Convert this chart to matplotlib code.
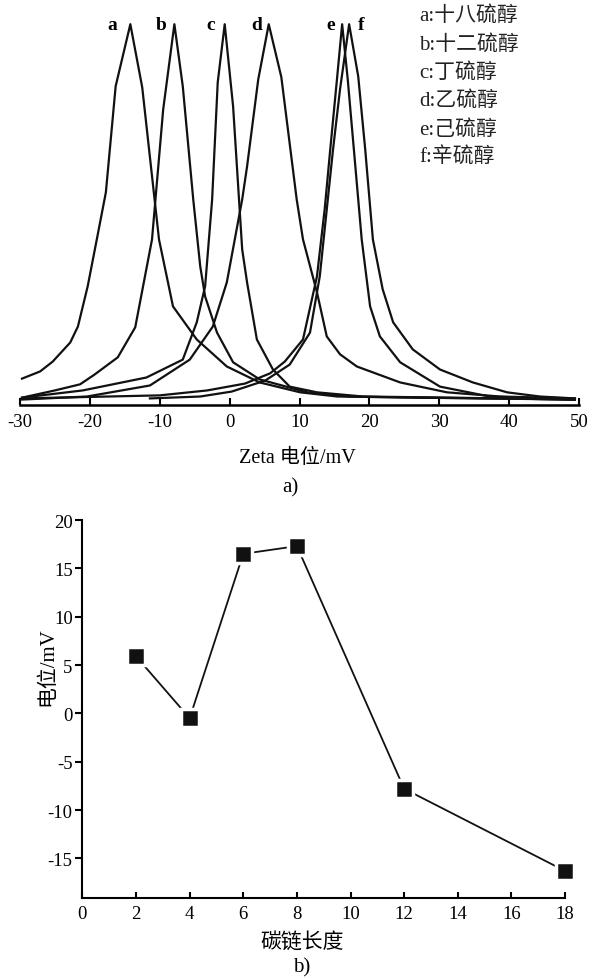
import matplotlib
matplotlib.use('Agg')
import matplotlib.pyplot as plt

# fonts: serif for latin text, CJK fallback for the Chinese characters
fams = ['Liberation Serif', 'Noto Sans CJK SC']
plt.rcParams['font.family'] = fams
plt.rcParams['axes.unicode_minus'] = False

# (a) zeta potential distributions, intensity normalised to peak = 100
a_mv = [-29.7, -27.1, -25.3, -22.8, -21.7, -20.3, -19.0, -17.7, -16.3, -14.2, -12.5, -10.1, -8.1, -4.7, -0.4, 4.3, 10.1, 15.4, 27.2, 38.7, 49.4]
a_int = [6.8, 8.7, 11.3, 16.3, 20.5, 31.1, 43.4, 55.8, 83.7, 100, 83.4, 43.4, 25.8, 17.1, 10.0, 5.8, 3.2, 2.1, 1.8, 1.6, 1.3]

b_mv = [-29.7, -25.0, -21.4, -19.3, -16.0, -13.5, -11.1, -9.5, -7.9, -6.7, -5.2, -4.2, -3.5, -1.8, 0.5, 4.3, 11.1, 17.2, 27.2, 49.4]
b_int = [1.8, 3.7, 5.3, 7.9, 12.4, 20.3, 43.4, 77.6, 100, 83.7, 53.9, 36.3, 28.4, 18.9, 11.1, 6.6, 3.2, 2.1, 1.8, 1.3]

c_mv = [-29.7, -21.0, -11.9, -6.7, -4.7, -3.5, -2.5, -1.7, -0.7, 0.5, 1.8, 2.5, 3.9, 6.2, 8.6, 12.5, 19.1, 31.5, 49.4]
c_int = [1.8, 3.7, 7.1, 11.8, 21.6, 31.1, 53.9, 84.7, 100, 78.4, 40.8, 32.1, 17.1, 9.2, 4.7, 3.2, 2.1, 1.8, 1.3]

d_mv = [-29.7, -20.4, -11.4, -5.7, -2.4, -0.4, 1.8, 2.5, 4.1, 5.6, 7.4, 9.6, 10.5, 12.5, 13.9, 15.8, 18.2, 24.4, 31.1, 38.7, 49.4]
d_int = [1.3, 2.1, 5.0, 11.8, 20.5, 32.1, 53.9, 62.6, 85.5, 100, 86.1, 53.9, 43.4, 29.5, 17.9, 13.2, 10.0, 5.8, 3.2, 2.1, 1.6]

e_mv = [-29.7, -10.0, -3.2, 2.2, 5.8, 7.9, 10.5, 12.5, 13.6, 14.4, 15.4, 16.1, 16.9, 17.9, 18.9, 20.1, 21.5, 24.4, 30.1, 37.2, 49.4]
e_int = [1.6, 2.4, 3.7, 5.5, 8.2, 11.3, 17.1, 33.7, 51.3, 67.1, 86.3, 100, 85.5, 64.5, 43.4, 25.8, 17.9, 11.1, 4.7, 2.1, 1.3]

f_mv = [-11.4, -4.2, 0.3, 5.1, 8.6, 11.5, 12.9, 13.9, 14.8, 15.8, 17.1, 18.4, 19.4, 20.5, 21.9, 23.4, 26.2, 30.1, 34.8, 39.7, 44.4, 49.4]
f_int = [1.6, 2.1, 3.4, 6.3, 10.5, 18.9, 33.7, 51.3, 67.1, 82.9, 100, 86.3, 67.1, 43.4, 30.3, 21.6, 14.5, 9.2, 5.8, 3.2, 2.1, 1.6]

curve_tags = ['a', 'b', 'c', 'd', 'e', 'f']
thiol_names = ['十八硫醇', '十二硫醇', '丁硫醇', '乙硫醇', '己硫醇', '辛硫醇']
x_ticks_a = [-30, -20, -10, 0, 10, 20, 30, 40, 50]

# (b) peak zeta potential vs carbon chain length
chain_len = [2, 4, 6, 8, 12, 18]
zeta_mv = [5.9, -0.5, 16.5, 17.3, -7.8, -16.3]

W, H = 594, 979
fig = plt.figure(figsize=(W / 100, H / 100), dpi=100)
fig.patch.set_facecolor('white')

# ---- panel a ----
ax1 = fig.add_axes([19.9 / W, 1 - 405.5 / H, 559.2 / W, 395.5 / H])
curves = [(a_mv, a_int), (b_mv, b_int), (c_mv, c_int), (d_mv, d_int), (e_mv, e_int), (f_mv, f_int)]
for mv, inten in curves:
    ax1.plot(mv, inten, color='#111111', lw=1.6, clip_on=False)

ax1.set_xlim(-30, 50)
ax1.set_ylim(0, 104)
ax1.set_xticks(x_ticks_a)
ax1.set_yticks([])
for s in ['left', 'top', 'right']:
    ax1.spines[s].set_visible(False)
ax1.spines['bottom'].set_linewidth(1.8)
ax1.tick_params(axis='x', direction='in', length=5, width=1.5, labelsize=13.5, pad=6)

# peak tags next to each maximum
tag_dx = [-13, -9.4, -10, -8.6, -8, 8.6]
for (mv, inten), tag, dx in zip(curves, curve_tags, tag_dx):
    k = inten.index(max(inten))
    ax1.annotate(tag, xy=(mv[k], inten[k]), xytext=(dx, -3.6), textcoords='offset points',
                 ha='center', va='baseline', fontsize=14, fontweight='bold',
                 family='Liberation Serif')

# legend as a plain text column
for i, (tag, name) in enumerate(zip(curve_tags, thiol_names)):
    fig.text(419 / W, 1 - (16 + 28.4 * i) / H, f'{tag}:{name}', ha='left', va='center',
             fontsize=15, color='#222222')

fig.text(297 / W, 1 - 458 / H, 'Zeta 电位/mV', ha='center', va='center', fontsize=14.5)
fig.text(290 / W, 1 - 488 / H, 'a)', ha='center', va='center', fontsize=15)

# ---- panel b ----
ax2 = fig.add_axes([82.4 / W, 1 - 899 / H, 482.6 / W, 378 / H])
ax2.plot(chain_len, zeta_mv, color='#111111', lw=1.3, marker='s', ms=13.5,
         mfc='#111111', mec='white', mew=2.5, clip_on=False, zorder=3)
ax2.set_xlim(0, 18)
ax2.set_ylim(-19.1, 20)
ax2.set_xticks(range(0, 19, 2))
ax2.set_yticks([-15, -10, -5, 0, 5, 10, 15, 20])
ax2.spines['top'].set_visible(False)
ax2.spines['right'].set_visible(False)
ax2.spines['left'].set_linewidth(1.5)
ax2.spines['bottom'].set_linewidth(1.5)
ax2.tick_params(axis='x', direction='in', length=4, width=1.5, labelsize=13.5, pad=5)
ax2.tick_params(axis='y', direction='out', length=5, width=1.5, labelsize=13.5, pad=2)

fig.text(48 / W, 1 - 667 / H, '电位/mV', ha='center', va='center', rotation=90, fontsize=15)
fig.text(302 / W, 1 - 943 / H, '碳链长度', ha='center', va='center', fontsize=15)
fig.text(302 / W, 1 - 968 / H, 'b)', ha='center', va='center', fontsize=15)

fig.savefig('out.png', dpi=100)
